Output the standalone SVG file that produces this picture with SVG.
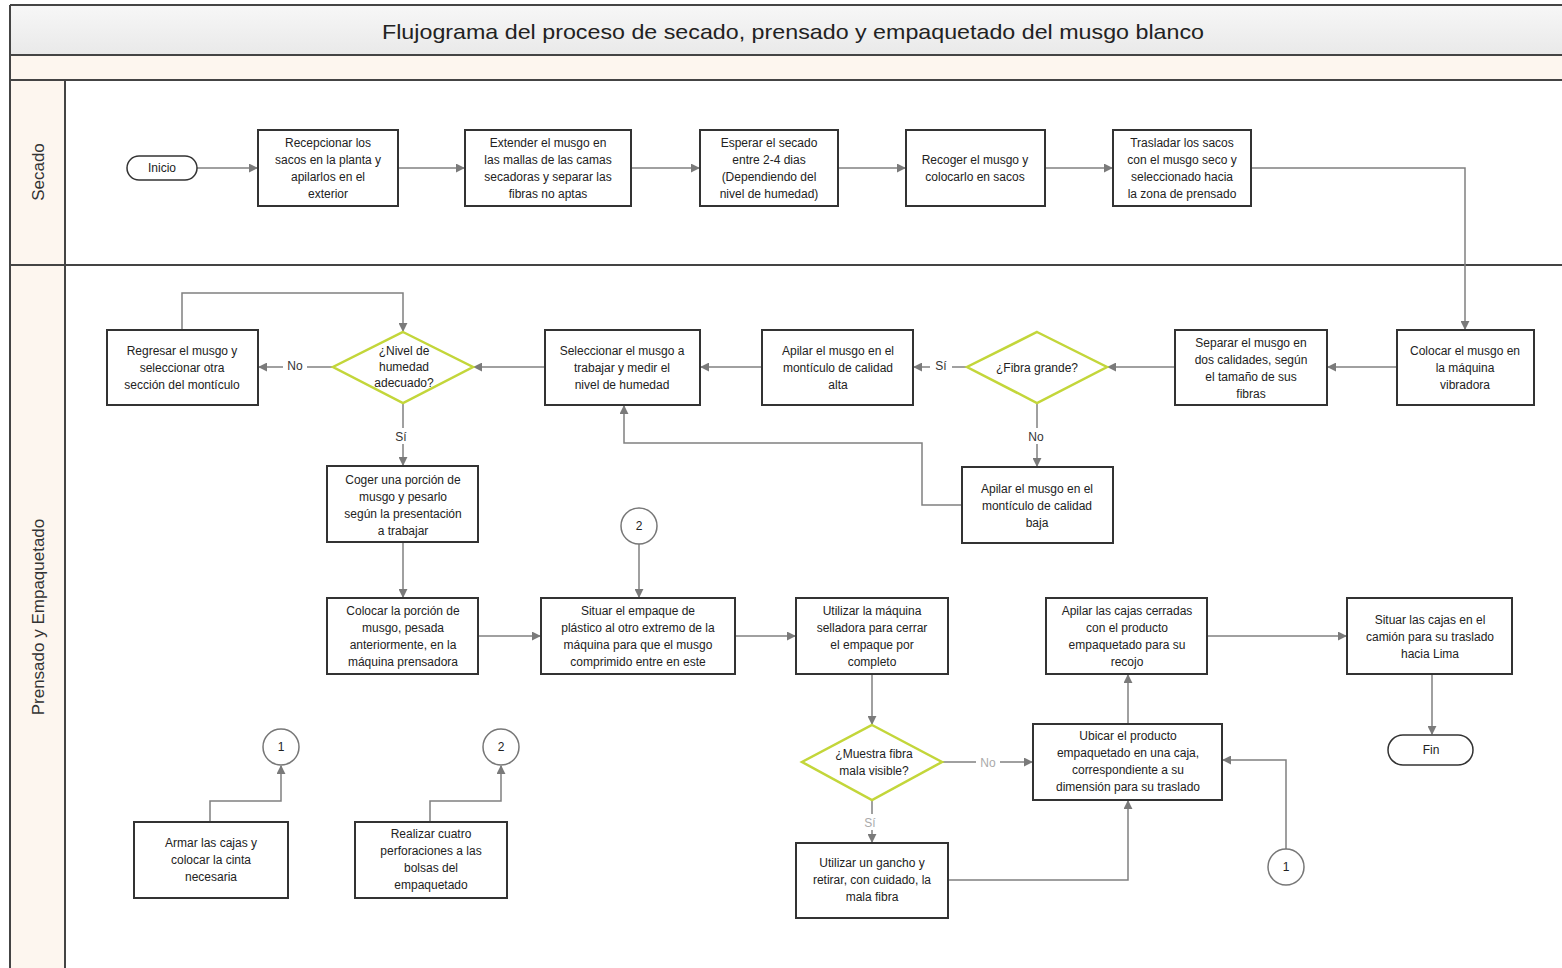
<svg xmlns="http://www.w3.org/2000/svg" width="1562" height="968" viewBox="0 0 1562 968">
<defs>
<linearGradient id="tg" x1="0" y1="0" x2="0" y2="1"><stop offset="0" stop-color="#f7f7f7"/><stop offset="1" stop-color="#e9e9e9"/></linearGradient>
<marker id="ar" viewBox="0 0 10 10" refX="9" refY="5" markerWidth="9" markerHeight="9" markerUnits="userSpaceOnUse" orient="auto"><path d="M0,0 L10,5 L0,10 z" fill="#7a7a7a"/></marker>
<style>
.bx{fill:#fff;stroke:#333;stroke-width:2}
.dm{fill:#fff;stroke:#c3d63a;stroke-width:2.5}
.st{fill:#fff;stroke:#333;stroke-width:1.5}
.cc{fill:#fff;stroke:#777;stroke-width:1.5}
.t{font-family:"Liberation Sans",Arial,sans-serif;font-size:12px;fill:#222;text-anchor:middle}
.lb{font-family:"Liberation Sans",Arial,sans-serif;font-size:12px;fill:#333;text-anchor:middle}
.lg{font-family:"Liberation Sans",Arial,sans-serif;font-size:12px;fill:#aaa;text-anchor:middle}
.ln{font-family:"Liberation Sans",Arial,sans-serif;font-size:17px;fill:#333;text-anchor:middle}
.c{fill:none;stroke:#808080;stroke-width:1.5;marker-end:url(#ar)}
.cn{fill:none;stroke:#808080;stroke-width:1.5}
.fr{stroke:#444;stroke-width:2;fill:none}
</style>
</defs>
<rect width="1562" height="968" fill="#fff"/>
<g id="pool">
<rect x="10" y="5" width="1552" height="50" fill="url(#tg)"/>
<rect x="10" y="55" width="1552" height="25" fill="#fdf6ef"/>
<rect x="10" y="80" width="55" height="888" fill="#fdf6ef"/>
<line class="fr" x1="10" y1="5" x2="1562" y2="5"/>
<line class="fr" x1="10" y1="55" x2="1562" y2="55"/>
<line class="fr" x1="10" y1="80" x2="1562" y2="80"/>
<line class="fr" x1="10" y1="265" x2="1562" y2="265"/>
<line class="fr" x1="10" y1="5" x2="10" y2="968"/>
<line class="fr" x1="65" y1="80" x2="65" y2="968"/>
<text x="382" y="39" font-family="Liberation Sans, Arial, sans-serif" font-size="21" fill="#222" textLength="822" lengthAdjust="spacingAndGlyphs">Flujograma del proceso de secado, prensado y empaquetado del musgo blanco</text>
<text class="ln" transform="translate(44,172) rotate(-90)">Secado</text>
<text class="ln" transform="translate(44,617) rotate(-90)">Prensado y Empaquetado</text>
</g>
<g id="connectors">
<path class="c" d="M197,168 H257"/>
<path class="c" d="M398,168 H464"/>
<path class="c" d="M631,168 H699"/>
<path class="c" d="M838,168 H905"/>
<path class="c" d="M1045,168 H1112"/>
<path class="c" d="M1251,168 H1465 V329"/>
<path class="c" d="M1397,367 H1328"/>
<path class="c" d="M1175,367 H1108"/>
<path class="c" d="M967,367 H914"/>
<path class="c" d="M1037,404 V466"/>
<path class="c" d="M962,505 H922 V443 H624 V406"/>
<path class="c" d="M762,367 H701"/>
<path class="c" d="M545,367 H474"/>
<path class="c" d="M333,367 H259"/>
<path class="c" d="M182,330 V293 H403 V331"/>
<path class="c" d="M403,403 V465"/>
<path class="c" d="M403,542 V597"/>
<path class="c" d="M639,544 V597"/>
<path class="c" d="M478,636 H540"/>
<path class="c" d="M735,636 H795"/>
<path class="c" d="M872,674 V724"/>
<path class="c" d="M942,762 H1032"/>
<path class="c" d="M872,800 V842"/>
<path class="c" d="M948,880 H1128 V801"/>
<path class="c" d="M1128,724 V675"/>
<path class="c" d="M1207,636 H1346"/>
<path class="c" d="M1432,674 V734"/>
<path class="c" d="M1286,849 V760 H1223"/>
<path class="c" d="M210,822 V801 H281 V766"/>
<path class="c" d="M430,822 V801 H501 V766"/>
<rect x="283" y="358" width="24" height="16" fill="#fff"/>
<text class="lb" x="295" y="370">No</text>
<rect x="393" y="428" width="16" height="16" fill="#fff"/>
<text class="lb" x="401" y="441">Sí</text>
<rect x="930" y="358" width="22" height="16" fill="#fff"/>
<text class="lb" x="941" y="370">Sí</text>
<rect x="1023" y="428" width="26" height="16" fill="#fff"/>
<text class="lb" x="1036" y="441">No</text>
<rect x="976" y="755" width="24" height="16" fill="#fff"/>
<text class="lg" x="988" y="767">No</text>
<rect x="863" y="814" width="16" height="16" fill="#fff"/>
<text class="lg" x="870" y="827">Sí</text>
</g>
<g id="inicio"><rect class="st" x="127" y="156" width="70" height="24" rx="12"/><text class="t" x="162" y="172">Inicio</text></g>
<g id="recepcionar"><rect class="bx" x="258" y="130" width="140" height="76"/><text class="t" x="328" y="147"><tspan x="328">Recepcionar los</tspan><tspan x="328" dy="17">sacos en la planta y</tspan><tspan x="328" dy="17">apilarlos en el</tspan><tspan x="328" dy="17">exterior</tspan></text></g>
<g id="extender"><rect class="bx" x="465" y="130" width="166" height="76"/><text class="t" x="548" y="147"><tspan x="548">Extender el musgo en</tspan><tspan x="548" dy="17">las mallas de las camas</tspan><tspan x="548" dy="17">secadoras y separar las</tspan><tspan x="548" dy="17">fibras no aptas</tspan></text></g>
<g id="esperar"><rect class="bx" x="700" y="130" width="138" height="76"/><text class="t" x="769" y="147"><tspan x="769">Esperar el secado</tspan><tspan x="769" dy="17">entre 2-4 dias</tspan><tspan x="769" dy="17">(Dependiendo del</tspan><tspan x="769" dy="17">nivel de humedad)</tspan></text></g>
<g id="recoger"><rect class="bx" x="906" y="130" width="139" height="76"/><text class="t" x="975" y="164"><tspan x="975">Recoger el musgo y</tspan><tspan x="975" dy="17">colocarlo en sacos</tspan></text></g>
<g id="trasladar"><rect class="bx" x="1113" y="130" width="138" height="76"/><text class="t" x="1182" y="147"><tspan x="1182">Trasladar los sacos</tspan><tspan x="1182" dy="17">con el musgo seco y</tspan><tspan x="1182" dy="17">seleccionado hacia</tspan><tspan x="1182" dy="17">la zona de prensado</tspan></text></g>
<g id="colocar-vibradora"><rect class="bx" x="1397" y="330" width="137" height="75"/><text class="t" x="1465" y="355"><tspan x="1465">Colocar el musgo en</tspan><tspan x="1465" dy="17">la máquina</tspan><tspan x="1465" dy="17">vibradora</tspan></text></g>
<g id="separar"><rect class="bx" x="1175" y="330" width="152" height="75"/><text class="t" x="1251" y="347"><tspan x="1251">Separar el musgo en</tspan><tspan x="1251" dy="17">dos calidades, según</tspan><tspan x="1251" dy="17">el tamaño de sus</tspan><tspan x="1251" dy="17">fibras</tspan></text></g>
<g id="fibra-grande"><polygon class="dm" points="1037,332 1107,367 1037,403 967,367"/><text class="t" x="1037" y="372">¿Fibra grande?</text></g>
<g id="apilar-alta"><rect class="bx" x="762" y="330" width="151" height="75"/><text class="t" x="838" y="355"><tspan x="838">Apilar el musgo en el</tspan><tspan x="838" dy="17">montículo de calidad</tspan><tspan x="838" dy="17">alta</tspan></text></g>
<g id="apilar-baja"><rect class="bx" x="962" y="467" width="151" height="76"/><text class="t" x="1037" y="493"><tspan x="1037">Apilar el musgo en el</tspan><tspan x="1037" dy="17">montículo de calidad</tspan><tspan x="1037" dy="17">baja</tspan></text></g>
<g id="seleccionar"><rect class="bx" x="545" y="330" width="155" height="75"/><text class="t" x="622" y="355"><tspan x="622">Seleccionar el musgo a</tspan><tspan x="622" dy="17">trabajar y medir el</tspan><tspan x="622" dy="17">nivel de humedad</tspan></text></g>
<g id="nivel-humedad"><polygon class="dm" points="403,332 473,367 403,403 333,367"/><text class="t" x="404" y="355"><tspan x="404">¿Nivel de</tspan><tspan x="404" dy="16">humedad</tspan><tspan x="404" dy="16">adecuado?</tspan></text></g>
<g id="regresar"><rect class="bx" x="107" y="330" width="151" height="75"/><text class="t" x="182" y="355"><tspan x="182">Regresar el musgo y</tspan><tspan x="182" dy="17">seleccionar otra</tspan><tspan x="182" dy="17">sección del montículo</tspan></text></g>
<g id="coger"><rect class="bx" x="327" y="466" width="151" height="76"/><text class="t" x="403" y="484"><tspan x="403">Coger una porción de</tspan><tspan x="403" dy="17">musgo y pesarlo</tspan><tspan x="403" dy="17">según la presentación</tspan><tspan x="403" dy="17">a trabajar</tspan></text></g>
<g id="colocar-porcion"><rect class="bx" x="327" y="598" width="151" height="76"/><text class="t" x="403" y="615"><tspan x="403">Colocar la porción de</tspan><tspan x="403" dy="17">musgo, pesada</tspan><tspan x="403" dy="17">anteriormente, en la</tspan><tspan x="403" dy="17">máquina prensadora</tspan></text></g>
<g id="conector-2-a"><circle class="cc" cx="639" cy="526" r="18"/><text class="t" x="639" y="530">2</text></g>
<g id="situar-empaque"><rect class="bx" x="541" y="598" width="194" height="76"/><text class="t" x="638" y="615"><tspan x="638">Situar el empaque de</tspan><tspan x="638" dy="17">plástico al otro extremo de la</tspan><tspan x="638" dy="17">máquina para que el musgo</tspan><tspan x="638" dy="17">comprimido entre en este</tspan></text></g>
<g id="utilizar-selladora"><rect class="bx" x="796" y="598" width="152" height="76"/><text class="t" x="872" y="615"><tspan x="872">Utilizar la máquina</tspan><tspan x="872" dy="17">selladora para cerrar</tspan><tspan x="872" dy="17">el empaque por</tspan><tspan x="872" dy="17">completo</tspan></text></g>
<g id="muestra-fibra"><polygon class="dm" points="872,725 942,762 872,800 802,762"/><text class="t" x="874" y="758"><tspan x="874">¿Muestra fibra</tspan><tspan x="874" dy="17">mala visible?</tspan></text></g>
<g id="utilizar-gancho"><rect class="bx" x="796" y="843" width="152" height="75"/><text class="t" x="872" y="867"><tspan x="872">Utilizar un gancho y</tspan><tspan x="872" dy="17">retirar, con cuidado, la</tspan><tspan x="872" dy="17">mala fibra</tspan></text></g>
<g id="ubicar"><rect class="bx" x="1033" y="724" width="189" height="76"/><text class="t" x="1128" y="740"><tspan x="1128">Ubicar el producto</tspan><tspan x="1128" dy="17">empaquetado en una caja,</tspan><tspan x="1128" dy="17">correspondiente a su</tspan><tspan x="1128" dy="17">dimensión para su traslado</tspan></text></g>
<g id="apilar-cajas"><rect class="bx" x="1046" y="598" width="161" height="76"/><text class="t" x="1127" y="615"><tspan x="1127">Apilar las cajas cerradas</tspan><tspan x="1127" dy="17">con el producto</tspan><tspan x="1127" dy="17">empaquetado para su</tspan><tspan x="1127" dy="17">recojo</tspan></text></g>
<g id="situar-cajas"><rect class="bx" x="1347" y="598" width="165" height="76"/><text class="t" x="1430" y="624"><tspan x="1430">Situar las cajas en el</tspan><tspan x="1430" dy="17">camión para su traslado</tspan><tspan x="1430" dy="17">hacia Lima</tspan></text></g>
<g id="fin"><rect class="st" x="1388" y="735" width="85" height="30" rx="15"/><text class="t" x="1431" y="754">Fin</text></g>
<g id="conector-1-b"><circle class="cc" cx="1286" cy="867" r="18"/><text class="t" x="1286" y="871">1</text></g>
<g id="conector-1-a"><circle class="cc" cx="281" cy="747" r="18"/><text class="t" x="281" y="751">1</text></g>
<g id="armar"><rect class="bx" x="134" y="822" width="154" height="76"/><text class="t" x="211" y="847"><tspan x="211">Armar las cajas y</tspan><tspan x="211" dy="17">colocar la cinta</tspan><tspan x="211" dy="17">necesaria</tspan></text></g>
<g id="conector-2-b"><circle class="cc" cx="501" cy="747" r="18"/><text class="t" x="501" y="751">2</text></g>
<g id="realizar"><rect class="bx" x="355" y="822" width="152" height="76"/><text class="t" x="431" y="838"><tspan x="431">Realizar cuatro</tspan><tspan x="431" dy="17">perforaciones a las</tspan><tspan x="431" dy="17">bolsas del</tspan><tspan x="431" dy="17">empaquetado</tspan></text></g>
</svg>
